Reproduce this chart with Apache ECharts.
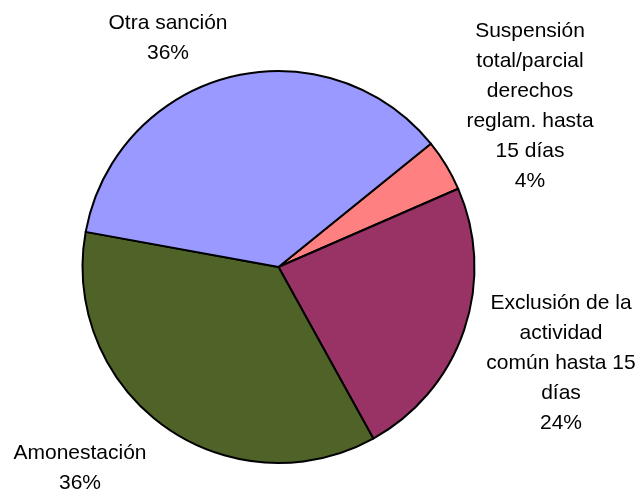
<!DOCTYPE html>
<html>
<head>
<meta charset="utf-8">
<script src="https://cdn.jsdelivr.net/npm/echarts@6/dist/echarts.min.js"></script>
<style>
  html, body { margin: 0; padding: 0; background: #fff; }
</style>
</head>
<body>
<div id="main" style="width: 641px; height: 495px;"></div>
<script>
// datos (orden horario a partir de la suspensión)
const categories = [
  'Suspensión\ntotal/parcial\nderechos\nreglam. hasta\n15 días',
  'Exclusión de la\nactividad\ncomún hasta 15\ndías',
  'Amonestación',
  'Otra sanción'
]
const values = [4.3, 23.5, 35.9, 36.3]
const colors = ['#FF8080', '#993366', '#4F6228', '#9999FF']

// posición de cada etiqueta (centro del bloque de texto)
const labelPos = [[530, 106], [561, 363], [80, 468], [168, 38]]

const chart = echarts.init(document.getElementById('main'))
chart.setOption({
  animation: false,
  series: [
    {
      type: 'pie',
      center: [278.5, 267],
      radius: [0, 196],
      startAngle: 39,
      clockwise: true,
      data: categories.map((name, i) => ({
        name: name,
        value: values[i],
        itemStyle: { color: colors[i] },
      })),
      itemStyle: { borderColor: '#000', borderWidth: 2 },
      label: {
        show: true,
        position: 'outside',
        formatter: (p) => p.name + '\n' + Math.round(p.percent) + '%',
        fontFamily: '"Liberation Sans", Arial, sans-serif',
        fontSize: 21,
        lineHeight: 30,
        color: '#000',
        align: 'center',
        overflow: 'none',
      },
      labelLine: { show: false },
      labelLayout: (params) => ({
        x: labelPos[params.dataIndex][0],
        y: labelPos[params.dataIndex][1],
        align: 'center',
        verticalAlign: 'middle',
      }),
      emphasis: { disabled: true },
    },
  ],
})
</script>
</body>
</html>
